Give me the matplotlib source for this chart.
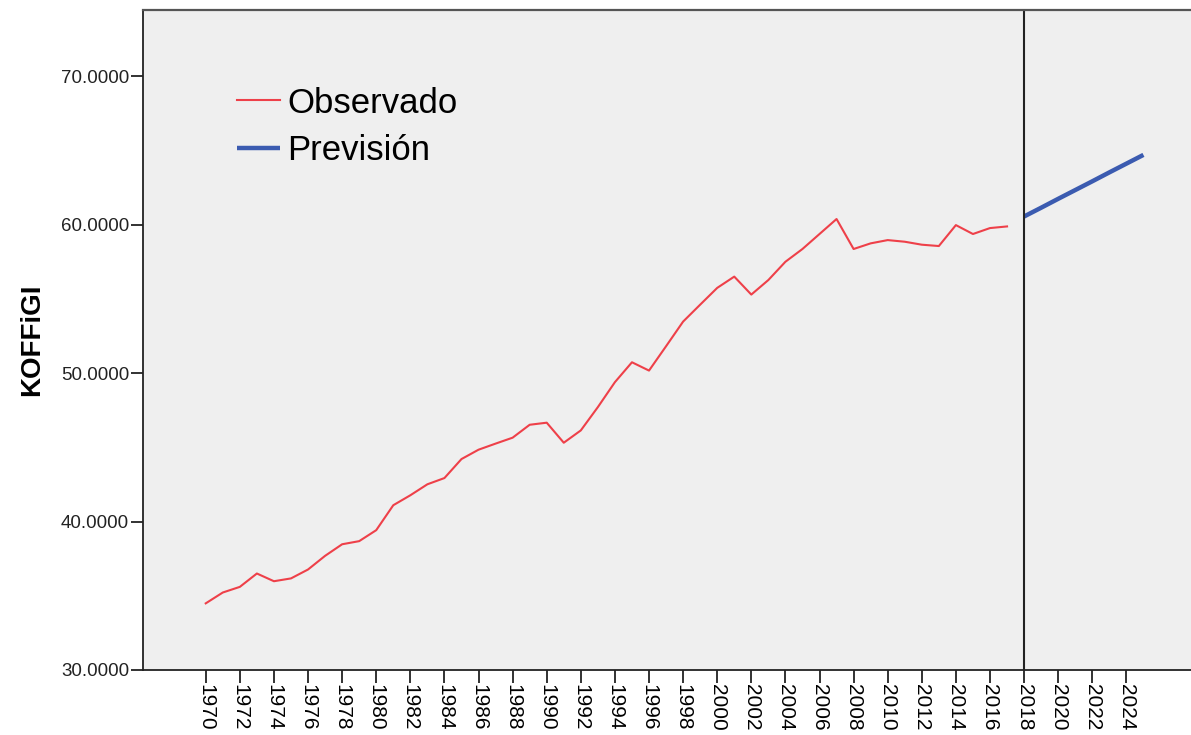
import matplotlib
matplotlib.use("Agg")
import matplotlib.pyplot as plt

years_obs = list(range(1970, 2018))
koffigi_obs = [34.49, 35.22, 35.60, 36.50, 35.98, 36.17, 36.77, 37.69, 38.47, 38.68,
               39.42, 41.10, 41.77, 42.51, 42.93, 44.21, 44.84, 45.25, 45.65, 46.52,
               46.66, 45.31, 46.14, 47.71, 49.39, 50.73, 50.17, 51.81, 53.47, 54.61,
               55.74, 56.50, 55.29, 56.27, 57.50, 58.36, 59.37, 60.38, 58.36, 58.74,
               58.96, 58.85, 58.65, 58.56, 59.97, 59.37, 59.77, 59.88]
years_fc = list(range(2018, 2026))
koffigi_fc = [60.55, 61.14, 61.74, 62.33, 62.92, 63.52, 64.11, 64.70]
xticks = list(range(1970, 2026, 2))
yticks = [30, 40, 50, 60, 70]
forecast_start = 2018

plt.rcParams['font.family'] = ['Liberation Sans', 'DejaVu Sans']

fig = plt.figure(figsize=(11.91, 7.35), dpi=100)
ax = fig.add_axes([143/1191, 1 - 670/735, 1 - 143/1191, 660/735])
ax.set_facecolor('#EFEFEF')

ax.plot(years_obs, koffigi_obs, color='#EE4049', lw=1.5, label='Observado')
ax.plot(years_fc, koffigi_fc, color='#3B5BB0', lw=3.2, label='Previsión', solid_capstyle='butt')
ax.axvline(forecast_start, color='#222222', lw=1.5)

ax.set_xlim(1966.32, 2027.79)
ax.set_ylim(30, 74.46)

ax.set_xticks(xticks)
ax.set_xticklabels([str(y) for y in xticks], rotation=-90, fontsize=15)
ax.set_yticks(yticks)
ax.set_yticklabels([f"{v:.4f}" for v in yticks], fontsize=13.5, color='#222222')
ax.tick_params(axis='x', length=9, width=1.3, pad=1, color='#222222')
ax.tick_params(axis='y', length=9, width=1.3, pad=1, color='#222222')

for s in ['left', 'bottom']:
    ax.spines[s].set_color('#222222')
    ax.spines[s].set_linewidth(1.3)
ax.spines['top'].set_color('#555555')
ax.spines['top'].set_linewidth(1.6)
ax.spines['right'].set_visible(False)

ax.set_ylabel('KOFFiGI', fontsize=20, fontweight='bold', labelpad=11)

leg = ax.legend(loc='upper left', bbox_to_anchor=(0.0765, 0.905), frameon=False,
                fontsize=25, handlelength=1.25, handletextpad=0.2, labelspacing=0.42,
                borderaxespad=0)

fig.savefig('out.png', dpi=100)
